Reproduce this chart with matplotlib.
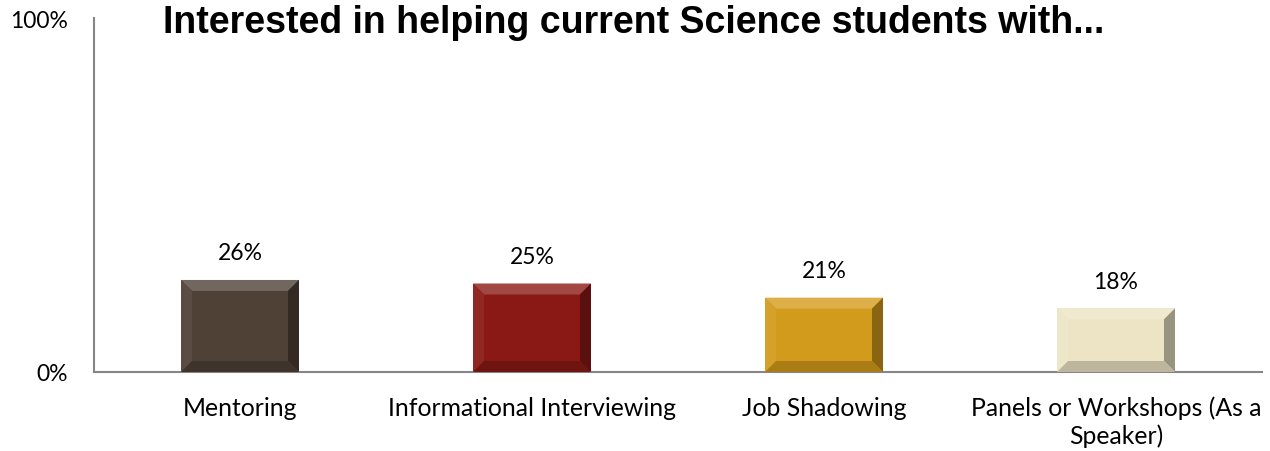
import matplotlib
matplotlib.use("Agg")
import matplotlib.pyplot as plt
from matplotlib.patches import Polygon
import numpy as np
from matplotlib.colors import to_rgb

categories = ["Mentoring", "Informational Interviewing", "Job Shadowing",
              "Panels or Workshops (As a\nSpeaker)"]
values = [26, 25, 21, 18]
value_labels = ["26%", "25%", "21%", "18%"]
colors = ["#4F4136", "#8A1915", "#D39B1C", "#ECE4C4"]
title = "Interested in helping current Science students with..."

W, H = 1270, 452
fig = plt.figure(figsize=(W / 100, H / 100), dpi=100)
L, R, T, B = 94, 1262, 19, 373
ax = fig.add_axes([L / W, (H - B) / H, (R - L) / W, (B - T) / H])

x = np.arange(len(categories))
bw = 0.404
bars = ax.bar(x, values, width=bw, color=colors, zorder=2)
ax.set_xlim(-0.5, len(categories) - 0.5)
ax.set_ylim(0, 100)

# bevel effect
px_x = (R - L) / (len(categories))  # pixels per x unit
px_y = (B - T) / 100.0
bev = 11
dx = bev / px_x
dy = bev / px_y

def mix(c, t, f):
    c = np.array(to_rgb(c)); t = np.array(to_rgb(t))
    return tuple(c * (1 - f) + t * f)

for rect, c in zip(bars, colors):
    x0 = rect.get_x(); x1 = x0 + rect.get_width(); h = rect.get_height()
    top = Polygon([(x0, h), (x1, h), (x1 - dx, h - dy), (x0 + dx, h - dy)],
                  closed=True, color=mix(c, "white", 0.2), zorder=3, lw=0)
    left = Polygon([(x0, 0), (x0, h), (x0 + dx, h - dy), (x0 + dx, dy)],
                   closed=True, color=mix(c, "white", 0.06), zorder=3, lw=0)
    right = Polygon([(x1, 0), (x1, h), (x1 - dx, h - dy), (x1 - dx, dy)],
                    closed=True, color=mix(c, "black", 0.35), zorder=3, lw=0)
    bot = Polygon([(x0, 0), (x1, 0), (x1 - dx, dy), (x0 + dx, dy)],
                  closed=True, color=mix(c, "black", 0.2), zorder=3, lw=0)
    for p in (top, left, right, bot):
        ax.add_patch(p)

for xi, v, lab in zip(x, values, value_labels):
    ax.annotate(lab, (xi, v), xytext=(0, 19.5), textcoords="offset points",
                ha="center", va="center", fontsize=16.5, family="Lato", color="black")

ax.set_yticks([0, 100])
ax.set_yticklabels(["0%", "100%"], fontsize=16.5, family="Lato")
ax.set_xticks(x)
ax.set_xticklabels(categories, fontsize=17.8, family="Lato", linespacing=1.2)
ax.tick_params(axis="both", length=0)
ax.tick_params(axis="y", pad=19)
ax.tick_params(axis="x", pad=17)
for s in ("top", "right"):
    ax.spines[s].set_visible(False)
for s in ("left", "bottom"):
    ax.spines[s].set_color("#868686")
    ax.spines[s].set_linewidth(1.5)

fig.text(163 / W, 1 - 33 / H, title, ha="left", va="baseline",
         fontsize=27, fontweight="bold", family="Liberation Sans")

fig.savefig("out.png", dpi=100)
